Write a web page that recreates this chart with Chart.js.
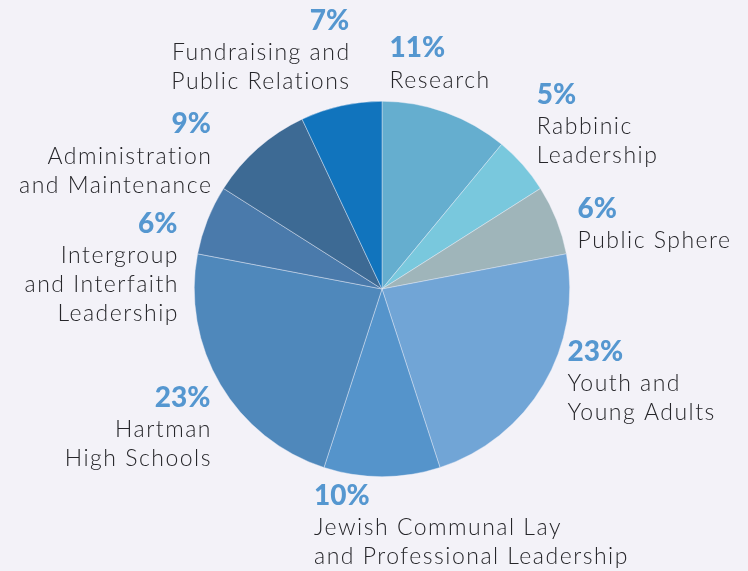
<!DOCTYPE html>
<html>
<head>
<meta charset="utf-8">
<script src="https://cdn.jsdelivr.net/npm/chart.js@4/dist/chart.umd.min.js"></script>
<style>
  html, body { margin: 0; padding: 0; background: #f3f2f8; }
  #wrap { width: 748px; height: 571px; position: relative; }
</style>
</head>
<body>
<div id="wrap"><canvas id="pieChart"></canvas></div>
<script>
const categories = [
  ["Research"],
  ["Rabbinic", "Leadership"],
  ["Public Sphere"],
  ["Youth and", "Young Adults"],
  ["Jewish Communal Lay", "and Professional Leadership"],
  ["Hartman", "High Schools"],
  ["Intergroup", "and Interfaith", "Leadership"],
  ["Administration", "and Maintenance"],
  ["Fundraising and", "Public Relations"]
];
const shares = [11, 5, 6, 23, 10, 23, 6, 9, 7];
const sliceColors = [
  "#65aecf", "#79c8dd", "#9fb5ba", "#71a5d6", "#5594cb",
  "#4f88bb", "#4a7aab", "#3d6a94", "#1174bd"
];

// where each label block sits relative to the slice's outer mid point
const labelPlacement = [
  { align: "left", dx: -56, dy: -64 },
  { align: "left", dx: 14, dy: -70 },
  { align: "left", dx: 21, dy: -11 },
  { align: "left", dx: 24, dy: -33 },
  { align: "left", dx: -68, dy: 19 },
  { align: "right", dx: -10, dy: 13 },
  { align: "right", dx: -30, dy: 4 },
  { align: "right", dx: -47, dy: -24 },
  { align: "right", dx: 8, dy: -85 }
];

const sliceLabels = {
  id: "sliceLabels",
  afterDraw(chart) {
    const ctx = chart.ctx;
    const arcs = chart.getDatasetMeta(0).data;
    arcs.forEach((arc, i) => {
      const p = arc.getProps(["x", "y", "startAngle", "endAngle", "outerRadius"], true);
      const mid = (p.startAngle + p.endAngle) / 2;
      const ex = p.x + Math.cos(mid) * p.outerRadius;
      const ey = p.y + Math.sin(mid) * p.outerRadius;
      const place = labelPlacement[i];
      const x = ex + place.dx;
      let y = ey + place.dy;

      ctx.save();
      ctx.textAlign = place.align;
      ctx.textBaseline = "middle";
      ctx.fillStyle = "#5597d0";
      ctx.font = "900 28px Lato";
      ctx.letterSpacing = "0px";
      ctx.fillText(shares[i] + "%", x, y);
      ctx.fillStyle = "#26262a";
      ctx.font = "300 23px Lato";
      ctx.letterSpacing = "1.5px";
      y += 32;
      categories[i].forEach(line => {
        ctx.fillText(line, place.align === "right" ? x + 1.5 : x, y);
        y += 29;
      });
      ctx.restore();
    });
  }
};

new Chart(document.getElementById("pieChart"), {
  type: "pie",
  data: {
    labels: categories.map(c => c.join(" ")),
    datasets: [{
      data: shares,
      backgroundColor: sliceColors,
      borderColor: "rgba(235,238,248,0.7)",
      borderWidth: 0.6
    }]
  },
  options: {
    responsive: true,
    maintainAspectRatio: false,
    animation: false,
    layout: { padding: { left: 194, right: 178, top: 101, bottom: 94 } },
    plugins: {
      legend: { display: false },
      tooltip: { enabled: false }
    }
  },
  plugins: [sliceLabels]
});
</script>
</body>
</html>
